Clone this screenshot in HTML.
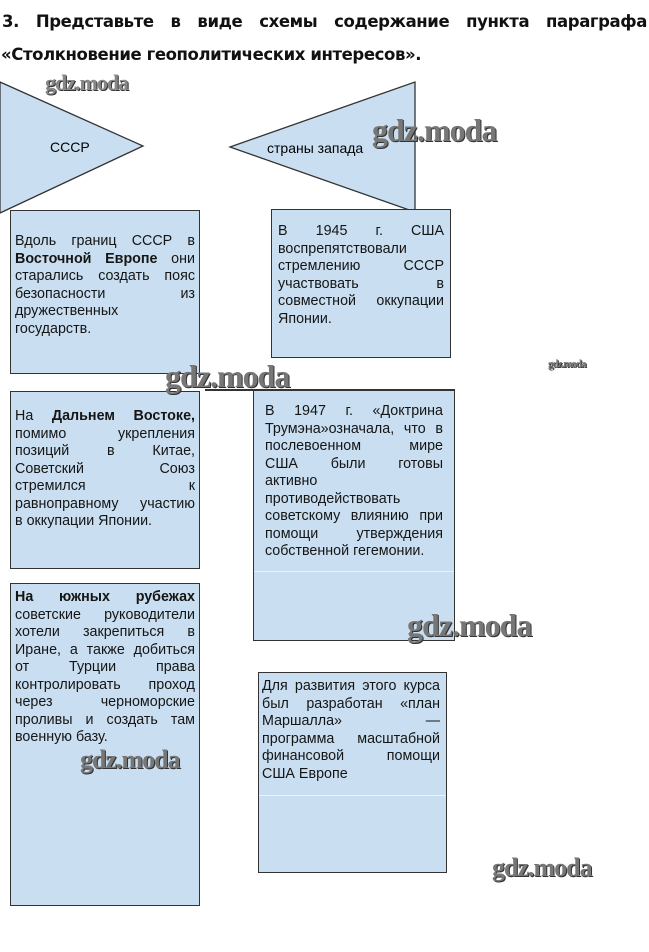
<!DOCTYPE html>
<html><head><meta charset="utf-8"><style>
body{margin:0;width:649px;height:952px;background:#fff;position:relative;overflow:hidden;font-family:"Liberation Sans","DejaVu Sans",sans-serif;}
.t{position:absolute;font-weight:bold;font-size:16.5px;color:#111;white-space:nowrap;font-family:"DejaVu Sans","Liberation Sans",sans-serif;letter-spacing:-0.4px}
.box{position:absolute;background:#c9dff1;border:1.5px solid #333;box-sizing:border-box}
.tx{position:absolute;font-size:14.3px;line-height:17.5px;color:#151515}
.tx div{text-align:justify;text-align-last:justify;white-space:nowrap}
.tx div.l{text-align-last:left}
.wm{position:absolute;font-family:"Liberation Serif",serif;font-weight:bold;color:#777;text-shadow:1px 1px 0 #333;letter-spacing:-1px}
</style></head><body>
<div class="t" style="left:2px;top:12px;width:645px;text-align:justify;text-align-last:justify">3. Представьте в виде схемы содержание пункта параграфа</div>
<div class="t" style="left:1px;top:45px">«Столкновение геополитических интересов».</div>
<svg width="649" height="952" style="position:absolute;left:0;top:0">
<polygon points="0,82 143,146 0,213" fill="#c9dff1" stroke="#333" stroke-width="1.3"/>
<polygon points="230,147 415,82 415,212" fill="#c9dff1" stroke="#333" stroke-width="1.3"/>
</svg>
<div style="position:absolute;left:50px;top:139px;font-size:14px">СССР</div>
<div style="position:absolute;left:267px;top:140px;font-size:14px">страны запада</div>

<div class="box" style="left:10px;top:210px;width:190px;height:164px"></div>
<div class="tx" style="left:15px;top:233px;width:180px">
<div>Вдоль границ СССР в</div><div><b>Восточной Европе</b> они</div><div>старались создать пояс</div><div>безопасности из</div><div class="l">дружественных</div><div class="l">государств.</div></div>

<div class="box" style="left:271px;top:209px;width:180px;height:149px"></div>
<div class="tx" style="left:278px;top:223px;width:166px">
<div>В 1945 г. США</div><div class="l">воспрепятствовали</div><div>стремлению СССР</div><div>участвовать в</div><div>совместной оккупации</div><div class="l">Японии.</div></div>

<div style="position:absolute;left:205px;top:389px;width:250px;height:2px;background:#333"></div>
<div class="box" style="left:10px;top:391px;width:190px;height:178px"></div>
<div class="tx" style="left:15px;top:408px;width:180px">
<div>На <b>Дальнем Востоке,</b></div><div>помимо укрепления</div><div>позиций в Китае,</div><div>Советский Союз</div><div>стремился к</div><div>равноправному участию</div><div class="l">в оккупации Японии.</div></div>

<div class="box" style="left:253px;top:391px;width:202px;height:250px;border-top:none"></div>
<div style="position:absolute;left:254px;top:571px;width:200px;height:1px;background:#e8f0f8"></div>
<div class="tx" style="left:265px;top:403px;width:178px">
<div>В 1947 г. «Доктрина</div><div>Трумэна»означала, что в</div><div>послевоенном мире</div><div>США были готовы</div><div class="l">активно</div><div class="l">противодействовать</div><div>советскому влиянию при</div><div>помощи утверждения</div><div class="l">собственной гегемонии.</div></div>

<div class="box" style="left:10px;top:583px;width:190px;height:323px"></div>
<div class="tx" style="left:15px;top:589px;width:180px">
<div><b>На южных рубежах</b></div><div>советские руководители</div><div>хотели закрепиться в</div><div>Иране, а также добиться</div><div>от Турции права</div><div>контролировать проход</div><div>через черноморские</div><div>проливы и создать там</div><div class="l">военную базу.</div></div>

<div class="box" style="left:258px;top:672px;width:189px;height:201px"></div>
<div style="position:absolute;left:259px;top:795px;width:187px;height:1px;background:#eef4fa"></div>
<div class="tx" style="left:262px;top:678px;width:178px">
<div>Для развития этого курса</div><div>был разработан «план</div><div>Маршалла» —</div><div>программа масштабной</div><div>финансовой помощи</div><div class="l">США Европе</div></div>

<div class="wm" style="left:45px;top:70px;font-size:22px;color:#888">gdz.moda</div>
<div class="wm" style="left:372px;top:112px;font-size:32px">gdz.moda</div>
<div class="wm" style="left:548px;top:358px;font-size:11px">gdz.moda</div>
<div class="wm" style="left:165px;top:358px;font-size:32px">gdz.moda</div>
<div class="wm" style="left:407px;top:607px;font-size:32px">gdz.moda</div>
<div class="wm" style="left:80px;top:745px;font-size:26px">gdz.moda</div>
<div class="wm" style="left:492px;top:853px;font-size:26px">gdz.moda</div>
</body></html>
